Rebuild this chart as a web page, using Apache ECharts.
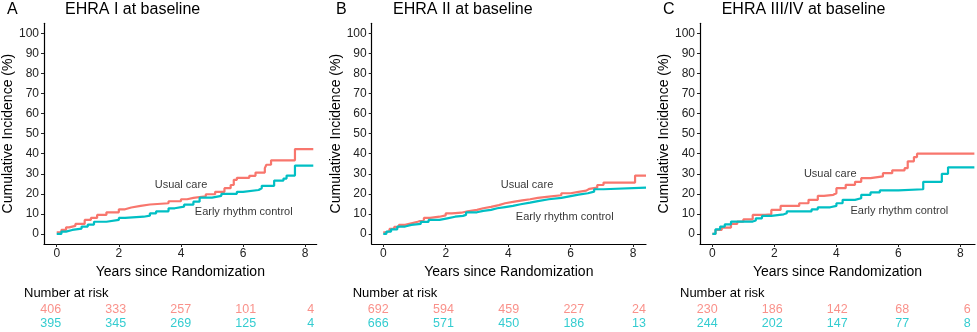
<!DOCTYPE html>
<html><head><meta charset="utf-8">
<script src="https://cdn.jsdelivr.net/npm/echarts@6/dist/echarts.min.js"></script>
<style>html,body{margin:0;padding:0;background:#fff}#c{width:977px;height:332px}</style>
</head><body><div id="c"></div>
<script>
const panelLetters = ['A', 'B', 'C'];
const panelTitles = ['EHRA I at baseline', 'EHRA II at baseline', 'EHRA III/IV at baseline'];
const yTicks = [0, 10, 20, 30, 40, 50, 60, 70, 80, 90, 100];
const xTicks = [0, 2, 4, 6, 8];
const riskTimes = [0, 2, 4, 6, 8];
const seriesNames = ['Usual care', 'Early rhythm control'];

// Panel A step curves [years, %]
const usualA = [[0,0.8],[0.15,2],[0.3,3.3],[0.4,4],[0.6,5],[0.9,7],[1.1,8],[1.3,9.5],[1.6,10.8],[2.0,12.3],[2.2,13.2],[2.4,14],[2.7,14.7],[3.0,15.3],[3.6,16.3],[4.0,17.3],[4.2,18],[4.4,18.8],[4.8,19.8],[5.1,21],[5.4,22.8],[5.6,24.4],[5.7,27],[5.8,28],[6.2,29],[6.4,30.6],[6.7,32.8],[6.75,34.5],[6.9,36.7],[7.67,42.3],[8.26,42.3]];
const earlyA = [[0,0],[0.15,1.2],[0.3,2],[0.5,2.7],[0.8,3.7],[1.0,4.7],[1.2,6.1],[1.6,7],[2.0,8],[2.2,8.6],[2.8,9.1],[3.0,10.3],[3.2,11.3],[3.6,12.8],[3.8,13.6],[4.1,14.6],[4.4,16.1],[4.6,18.1],[5.0,19],[5.3,20],[5.8,21],[6.0,21.9],[6.5,22.8],[6.6,24],[7.0,26.6],[7.3,27.6],[7.4,29.1],[7.67,34.1],[8.26,34.1]];
// Panel B
const usualB = [[0,0.8],[0.1,1.5],[0.2,2.5],[0.35,3.5],[0.5,4.5],[0.7,5.3],[0.9,6.1],[1.1,7],[1.3,8],[1.5,8.6],[1.8,9.3],[2.0,10.3],[2.2,10.6],[2.5,11.3],[2.7,12],[3.0,12.8],[3.2,13.5],[3.45,14.4],[3.7,15.3],[3.9,16.1],[4.2,16.7],[4.45,17.3],[4.7,18],[4.95,18.6],[5.3,19.3],[5.7,20.3],[6.0,21],[6.25,21.6],[6.5,22.5],[6.6,23.1],[6.85,24.4],[7.05,25.6],[8.06,29.1],[8.41,29.1]];
const earlyB = [[0,0],[0.1,1.2],[0.25,2.3],[0.45,3.7],[0.7,4.5],[0.9,5],[1.2,6],[1.45,7],[1.8,7.8],[2.05,8.6],[2.3,9],[2.55,9.5],[2.65,10.8],[3.0,11.5],[3.2,12],[3.45,12.8],[3.65,13.4],[3.9,14],[4.15,14.8],[4.4,15.6],[4.7,16.4],[4.95,17.3],[5.3,18],[5.7,18.9],[6.0,19.6],[6.25,20.3],[6.55,21.1],[6.75,22.3],[7.05,23.1],[8.41,23.1]];
// Panel C
const usualC = [[0,0],[0.1,2],[0.3,3.2],[0.6,5],[0.8,6.2],[1.0,7.3],[1.3,9.5],[1.7,9.8],[1.9,12],[2.2,14],[2.8,15.3],[3.1,17],[3.4,19],[3.6,19.5],[3.9,20.3],[4.0,22.8],[4.3,24.5],[4.6,26],[4.8,27.8],[5.1,28.7],[5.5,30.3],[5.8,31.7],[6.2,32.8],[6.3,36.2],[6.5,38.3],[6.6,40],[8.45,40]];
const earlyC = [[0,0],[0.1,2.3],[0.25,3.7],[0.4,4.8],[0.6,6.2],[1.3,6.7],[1.4,7.8],[1.6,9],[1.9,9.8],[2.3,10.3],[2.4,11.3],[3.2,12.3],[3.4,13.3],[3.8,14],[4.0,15.3],[4.2,17],[4.6,17.8],[4.8,19.5],[5.1,20.7],[5.4,21.7],[6.0,22.3],[6.8,26],[7.4,30],[7.6,33.2],[8.45,33.2]];

// Curve label anchor points [years, %] per panel: usual care, early rhythm control
const labelPosA = [[4.0, 24.4], [6.02, 10.8]];
const labelPosB = [[4.6, 24.4], [5.81, 8.3]];
const labelPosC = [[3.8, 29.9], [6.03, 11.6]];

// Number at risk
const riskUsualA = [406, 333, 257, 101, 4];
const riskEarlyA = [395, 345, 269, 125, 4];
const riskUsualB = [692, 594, 459, 227, 24];
const riskEarlyB = [666, 571, 450, 186, 13];
const riskUsualC = [230, 186, 142, 68, 6];
const riskEarlyC = [244, 202, 147, 77, 8];

const RED = '#F8766D', TEAL = '#00BFC4';
const FONT = '"Liberation Sans", Arial, sans-serif';
const CLEAR = 'rgba(0,0,0,0)';

const panels = [
  {usual: usualA, early: earlyA, lab: labelPosA, ru: riskUsualA, re: riskEarlyA,
   grid: {left: 44, top: 23.3, width: 272.7, height: 220.7}, xmin: -0.41, xmax: 8.37,
   letterX: 7, titleX: 65, riskTextX: 24, tbl: {left: 50.7, width: 260}},
  {usual: usualB, early: earlyB, lab: labelPosB, ru: riskUsualB, re: riskEarlyB,
   grid: {left: 371.7, top: 23.3, width: 274.3, height: 220.7}, xmin: -0.37, xmax: 8.41,
   letterX: 336, titleX: 393, riskTextX: 352.7, tbl: {left: 378.3, width: 260.7}},
  {usual: usualC, early: earlyC, lab: labelPosC, ru: riskUsualC, re: riskEarlyC,
   grid: {left: 700, top: 23.3, width: 275, height: 220.7}, xmin: -0.4, xmax: 8.47,
   letterX: 663, titleX: 721.7, riskTextX: 680, tbl: {left: 707.3, width: 260}}
];

const grids = [], xAxes = [], yAxes = [], series = [], titles = [];
panels.forEach((p, i) => {
  const gi = grids.length;
  grids.push(p.grid);
  xAxes.push({
    type: 'value', gridIndex: gi, min: p.xmin, max: p.xmax,
    name: 'Years since Randomization', nameLocation: 'middle', nameGap: 16,
    nameTextStyle: {fontSize: 14, color: '#000', fontFamily: FONT},
    axisLine: {show: true, onZero: false, lineStyle: {color: '#000', width: 1.2}},
    axisTick: {show: true, length: 3, lineStyle: {color: '#222'}, customValues: xTicks},
    axisLabel: {fontSize: 12, color: '#222', margin: 4, fontFamily: FONT, customValues: xTicks},
    splitLine: {show: false}
  });
  yAxes.push({
    type: 'value', gridIndex: gi, min: -5, max: 105,
    name: 'Cumulative Incidence (%)', nameLocation: 'middle', nameGap: 27,
    nameTextStyle: {fontSize: 14, color: '#000', fontFamily: FONT},
    axisLine: {show: true, onZero: false, lineStyle: {color: '#000', width: 1.2}},
    axisTick: {show: true, length: 3, lineStyle: {color: '#222'}, customValues: yTicks},
    axisLabel: {fontSize: 12, color: '#222', margin: 5, fontFamily: FONT, customValues: yTicks},
    splitLine: {show: false}
  });
  [[p.usual, RED], [p.early, TEAL]].forEach(([d, c], k) => {
    series.push({type: 'line', name: seriesNames[k], xAxisIndex: gi, yAxisIndex: gi, data: d,
      step: 'end', showSymbol: false, symbol: 'none', lineStyle: {color: c, width: 2.2}, silent: true, z: 3});
  });
  series.push({type: 'scatter', xAxisIndex: gi, yAxisIndex: gi, symbolSize: 1,
    itemStyle: {color: CLEAR}, silent: true,
    data: p.lab.map((v, k) => ({value: v, name: seriesNames[k]})),
    label: {show: true, position: 'inside', formatter: q => q.name, color: '#000', fontSize: 11, fontFamily: FONT}});

  // risk table grid
  const ti = grids.length;
  grids.push({left: p.tbl.left, width: p.tbl.width, top: 303, height: 28});
  xAxes.push({type: 'value', gridIndex: ti, min: 0, max: 8, show: false});
  yAxes.push({type: 'value', gridIndex: ti, min: 0, max: 2, show: false});
  [[p.ru, RED, 1.5], [p.re, TEAL, 0.5]].forEach(([arr, c, row]) => {
    series.push({type: 'scatter', xAxisIndex: ti, yAxisIndex: ti, symbolSize: 1,
      itemStyle: {color: CLEAR}, silent: true,
      data: arr.map((n, k) => [riskTimes[k], row, n]),
      label: {show: true, position: 'inside', formatter: q => String(q.value[2]), color: c, fontSize: 12.5, fontFamily: FONT}});
  });

  titles.push({text: panelLetters[i], left: p.letterX, top: 2, padding: 0,
    textStyle: {fontSize: 16, fontWeight: 'normal', color: '#000', fontFamily: FONT}});
  titles.push({text: panelTitles[i], left: p.titleX, top: 2, padding: 0,
    textStyle: {fontSize: 16, fontWeight: 'normal', color: '#000', fontFamily: FONT}});
  titles.push({text: 'Number at risk', left: p.riskTextX, top: 287, padding: 0,
    textStyle: {fontSize: 13, fontWeight: 'normal', color: '#000', fontFamily: FONT}});
});

const chart = echarts.init(document.getElementById('c'), null, {renderer: 'canvas'});
chart.setOption({
  animation: false,
  backgroundColor: '#fff',
  title: titles,
  grid: grids,
  xAxis: xAxes,
  yAxis: yAxes,
  series: series
});
</script>
</body></html>
